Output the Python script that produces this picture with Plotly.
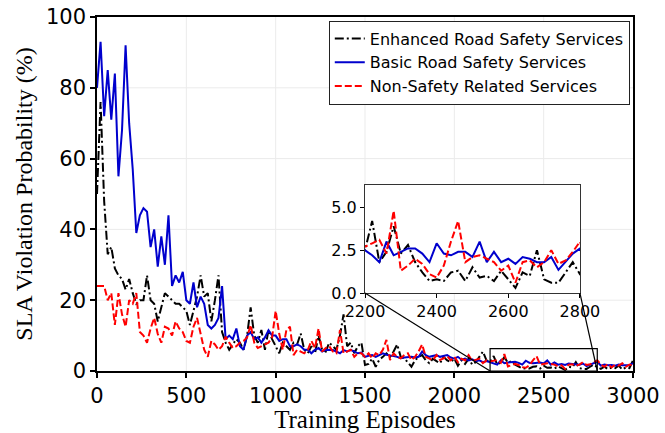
import plotly.graph_objects as go

episodes = list(range(0, 3001, 20))

enhanced = [
    50, 76, 48, 33, 35, 29, 27, 26, 23, 26,
    22, 19, 20, 20, 27, 20, 19, 14, 18, 22,
    21, 20, 19, 19, 18, 17, 13, 17, 21, 27,
    21, 22, 14, 20, 27, 11, 8, 6, 7.5, 9,
    8, 6, 10, 18, 10, 8, 11.6, 6, 11.6, 9,
    7, 5, 8, 7, 6, 8, 7.5, 10.6, 6, 5,
    7, 5, 10, 6, 5.5, 8, 7, 6, 10, 16,
    7, 8, 5, 7, 8, 1.7, 2.0, 3.5, 1.2, 3.2,
    4.0, 5.0, 4.0, 5.5, 7.5, 4.0, 3.6, 2.5, 1.2, 3.0,
    4.0, 4.5, 3.0, 2.2, 3.5, 2.8, 2.2, 4.0, 3.0, 2.5,
    3.5, 1.5, 3.0, 2.0, 3.5, 1.8, 2.5, 4.0, 5.5, 3.0,
    2.5, 4.2, 1.8, 2.4, 3.9, 2.3, 2.8, 1.8, 1.2, 0.7,
    0.8, 0.7, 1.2, 1.3, 0.7, 1.5, 0.9, 1.0, 0.7, 1.3,
    0.8, 0.3, 1.2, 1.0, 2.5, 0.8, 0.6, 0.6, 1.2, 1.8,
    1.1, 0.6, 1.2, 0.5, 1.0, 0.8, 1.5, 0.4, 1.0, 0.8,
    3.0,
]

basic = [
    80, 93, 72, 85, 71, 84, 55, 68, 92, 70,
    57, 39, 44, 46, 45, 35, 40, 29.5, 38, 30,
    44, 24, 27, 25, 28, 20, 19, 25, 18, 21,
    19, 13, 12, 13, 15, 24, 9, 10, 9, 12,
    7, 6, 10, 11, 9, 9.5, 8, 9.5, 11.5, 10,
    10, 8.5, 9, 9, 7, 7, 7.5, 7, 6, 6,
    5, 6, 6.5, 5.5, 6, 6, 5.9, 5.5, 5, 5.9,
    5.5, 6, 5.5, 5.0, 5.2, 4.0, 4.3, 4.5, 4.0, 4.5,
    5.0, 4.6, 4.5, 4.2, 4.0, 3.6, 3.8, 4.0, 4.0, 3.8,
    4.0, 5.5, 4.5, 4.0, 4.2, 4.5, 4.0, 4.2, 4.5, 3.8,
    3.5, 4.0, 3.2, 3.5, 3.0, 3.3, 2.8, 3.0, 2.5, 2.8,
    2.5, 2.2, 1.8, 3.0, 2.2, 2.4, 2.6, 2.6, 2.3, 1.8,
    2.9, 2.3, 2.2, 2.4, 2.4, 2.1, 3.0, 1.8, 2.4, 1.8,
    2.0, 1.7, 2.1, 2.0, 1.8, 1.8, 2.1, 1.35, 1.8, 2.3,
    2.6, 1.5, 1.8, 1.6, 1.7, 1.5, 1.8, 1.6, 1.7, 1.6,
    2.2,
]

non_safety = [
    24, 24, 24, 20, 22, 13, 22, 16, 12.5, 20,
    19, 22, 11, 10, 8, 12, 15, 10.5, 8, 12.5,
    12, 10, 14, 12, 11, 8.5, 8, 12.5, 15, 10.5,
    6, 4, 8.5, 7.5, 6, 7, 9.7, 8, 6.5, 7,
    8, 8.5, 9.5, 13, 8, 6.5, 7, 7.5, 8, 9.5,
    17, 10.5, 6, 11.6, 12.5, 4.5, 6, 5.5, 5, 6,
    8.5, 6.5, 12, 5.5, 6.5, 7, 5.5, 5, 11.6, 5,
    5.5, 6, 4, 5, 5, 4, 5, 3.6, 5, 4.5,
    6, 8.8, 3.1, 5, 4.0, 3.6, 4.5, 5, 3.1, 4.0,
    5.5, 7.5, 4.0, 3.5, 3.0, 4.5, 3.1, 3.6, 4.2, 3.0,
    4.0, 2.5, 3.5, 3.0, 4.5, 2.8, 3.2, 3.5, 2.2, 3.0,
    2.7, 2.9, 3.1, 2.3, 4.8, 1.3, 1.6, 2.0, 1.7, 1.1,
    0.9, 1.6, 3.0, 4.2, 1.8, 2.1, 2.2, 2.0, 1.8, 1.3,
    1.6, 0.6, 1.8, 1.9, 1.5, 1.8, 2.5, 1.7, 1.9, 2.4,
    3.0, 1.8, 1.2, 2.0, 1.0, 1.8, 1.5, 2.2, 1.2, 1.8,
    1.5,
]

series_names = ["Enhanced Road Safety Services", "Basic Road Safety Services",
                "Non-Safety Related Services"]
x_ticks = [0, 500, 1000, 1500, 2000, 2500, 3000]
y_ticks = [0, 20, 40, 60, 80, 100]
inset_x_ticks = [2200, 2400, 2600, 2800]
inset_y_ticks = [0.0, 2.5, 5.0]

main_x_range = [0, 3000]
main_y_range = [0, 100]
inset_x_range = [2200, 2800]
inset_y_range = [0, 6.3]

styles = [
    dict(color="black", dash="9px,3px,2px,3px"),
    dict(color="#0000cd", dash="solid"),
    dict(color="#ff0000", dash="7px,3px"),
]
data = [enhanced, basic, non_safety]

fig = go.Figure()
for name, vals, st in zip(series_names, data, styles):
    fig.add_trace(go.Scatter(x=episodes, y=vals, mode="lines", name=name,
                             line=dict(color=st["color"], dash=st["dash"], width=2),
                             xaxis="x", yaxis="y"))
for name, vals, st in zip(series_names, data, styles):
    fig.add_trace(go.Scatter(x=episodes, y=vals, mode="lines", name=name, showlegend=False,
                             line=dict(color=st["color"], dash=st["dash"], width=2),
                             xaxis="x2", yaxis="y2"))

inset_dom_x = [0.5, 0.901]
inset_dom_y = [0.2203, 0.5254]

tick_font = dict(family="DejaVu Sans", size=21, color="black")
xtitle_font = dict(family="Liberation Serif", size=25, color="black")
ytitle_font = dict(family="Liberation Serif", size=24, color="black")
inset_font = dict(family="DejaVu Sans", size=16, color="black")
fig.update_layout(
    width=665, height=433,
    margin=dict(l=97, r=32, t=17, b=62),
    paper_bgcolor="white", plot_bgcolor="white",
    xaxis=dict(range=main_x_range, tickvals=x_ticks, showgrid=False,
               showline=True, mirror=True, linecolor="black", linewidth=1.5,
               ticks="outside", ticklen=5, tickwidth=1.5, tickcolor="black",
               tickfont=tick_font, zeroline=False, automargin=False,
               title=dict(text="Training Episodes", font=xtitle_font, standoff=2)),
    yaxis=dict(range=main_y_range, tickvals=y_ticks, showgrid=False,
               showline=True, mirror=True, linecolor="black", linewidth=1.5,
               ticks="outside", ticklen=5, tickwidth=1.5, tickcolor="black",
               tickfont=tick_font, zeroline=False, automargin=False,
               title=dict(text="SLA Violation Probability (%)", font=ytitle_font, standoff=7)),
    xaxis2=dict(domain=inset_dom_x, anchor="y2", range=inset_x_range, tickvals=inset_x_ticks,
                showgrid=False, showline=True, mirror=True, linecolor="#333333", linewidth=1.2,
                ticks="outside", ticklen=4, tickwidth=1.2, tickcolor="black",
                tickfont=inset_font, zeroline=False),
    yaxis2=dict(domain=inset_dom_y, anchor="x2", range=inset_y_range, tickvals=inset_y_ticks,
                tickformat=".1f",
                showgrid=False, showline=True, mirror=True, linecolor="#333333", linewidth=1.2,
                ticks="outside", ticklen=4, tickwidth=1.2, tickcolor="black",
                tickfont=inset_font, zeroline=False),
    legend=dict(x=0.994, y=0.99, xanchor="right", yanchor="top",
                bgcolor="white", bordercolor="#222222", borderwidth=1,
                font=dict(family="DejaVu Sans", size=16, color="black"),
                tracegroupgap=0),
    showlegend=True,
)

def xp(v):
    return (v - main_x_range[0]) / (main_x_range[1] - main_x_range[0])
def yp(v):
    return (v - main_y_range[0]) / (main_y_range[1] - main_y_range[0])

grid_style = dict(color="#ebebeb", width=1)
for t in x_ticks[1:-1]:
    fig.add_shape(type="line", xref="paper", yref="paper", x0=xp(t), x1=xp(t), y0=0, y1=1,
                  line=grid_style, layer="below")
for t in y_ticks[1:-1]:
    fig.add_shape(type="line", xref="paper", yref="paper", x0=0, x1=1, y0=yp(t), y1=yp(t),
                  line=grid_style, layer="below")
# white background of the inset (hides main grid)
fig.add_shape(type="rect", xref="paper", yref="paper", x0=inset_dom_x[0], x1=inset_dom_x[1],
              y0=inset_dom_y[0], y1=inset_dom_y[1], fillcolor="white", line=dict(width=0),
              layer="below")
# zoom rectangle on main axes
fig.add_shape(type="rect", xref="x", yref="y", x0=inset_x_range[0], x1=inset_x_range[1],
              y0=inset_y_range[0], y1=inset_y_range[1], line=dict(color="black", width=1.2),
              layer="above")
# connector lines
fig.add_shape(type="line", xref="paper", yref="paper", x0=inset_dom_x[0], y0=inset_dom_y[0],
              x1=xp(inset_x_range[0]), y1=yp(inset_y_range[0]), line=dict(color="black", width=1.2))
fig.add_shape(type="line", xref="paper", yref="paper", x0=inset_dom_x[1], y0=inset_dom_y[0],
              x1=xp(inset_x_range[1]), y1=yp(inset_y_range[0]), line=dict(color="black", width=1.2))

fig.write_html("out.html", config={"displayModeBar": False},
               post_script="document.body.style.margin='0px';")
